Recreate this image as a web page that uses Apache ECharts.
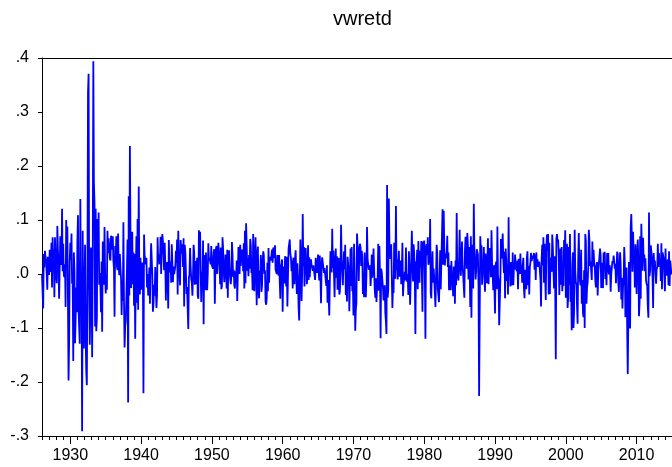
<!DOCTYPE html>
<html><head><meta charset="utf-8">
<script src="https://cdn.jsdelivr.net/npm/echarts@6/dist/echarts.min.js"></script>
<style>html,body{margin:0;padding:0;background:#fff}#c{width:672px;height:467px}</style>
</head><body><div id="c"></div>
<script>
const seriesName = 'vwretd';
const startYear = 1926; // monthly observations from 1926M01
const ret1920s = [
-0.001,-0.033,-0.064,0.037,0.012,0.043,0.032,0.026,0.025,-0.029,0.032,0.028,
-0.002,0.045,0.004,0.010,0.058,-0.025,0.068,0.024,0.046,-0.043,0.068,0.026,
-0.005,-0.017,0.089,0.045,0.017,-0.046,0.012,0.070,0.029,0.017,0.121,0.005,
0.056,-0.002,-0.006,0.018,-0.061,0.100,0.045,0.088,-0.047,-0.197,-0.125,0.022];
const ret1930s = [
0.058,0.026,0.075,-0.018,-0.013,-0.161,0.040,0.008,-0.128,-0.086,-0.025,-0.071,
0.061,0.109,-0.066,-0.098,-0.129,0.139,-0.066,0.004,-0.291,0.080,-0.093,-0.138,
-0.022,0.054,-0.115,-0.179,-0.206,-0.004,0.336,0.371,-0.029,-0.131,-0.056,0.049,
0.008,-0.154,0.032,0.394,0.170,0.133,-0.097,0.121,-0.106,-0.083,0.102,0.028,
0.114,-0.020,0.002,-0.020,-0.071,0.023,-0.107,0.060,-0.003,-0.020,0.087,0.003,
-0.036,-0.017,-0.029,0.080,0.039,0.066,0.068,0.029,0.025,0.071,0.045,0.042,
0.070,0.025,0.010,-0.079,0.052,0.027,0.070,0.014,0.007,0.075,0.017,-0.002,
0.037,0.011,-0.008,-0.076,-0.014,-0.050,0.096,-0.050,-0.136,-0.097,-0.087,-0.045,
0.007,0.064,-0.238,0.144,-0.040,0.237,0.073,-0.026,0.014,0.078,-0.019,0.040,
-0.059,0.037,-0.120,-0.007,0.070,-0.053,0.102,-0.066,0.162,-0.005,-0.038,0.030];
const ret1940s = [
-0.029,0.014,0.021,-0.001,-0.221,0.073,0.033,0.027,0.018,0.030,-0.025,0.000,
-0.040,-0.015,0.012,-0.055,0.015,0.057,0.058,0.000,-0.070,-0.056,-0.020,-0.040,
0.013,-0.025,-0.063,-0.040,0.068,0.024,0.036,0.018,0.027,0.069,0.000,0.052,
0.074,0.061,0.063,0.007,0.058,0.019,-0.049,0.015,0.022,-0.013,-0.064,0.063,
0.018,0.003,0.023,-0.016,0.055,0.058,-0.015,0.014,0.000,0.002,0.014,0.043,
0.021,0.064,-0.038,0.080,0.022,0.002,-0.021,0.063,0.047,0.038,0.055,0.013,
0.066,-0.060,0.054,0.040,0.038,-0.037,-0.024,-0.066,-0.102,-0.007,-0.001,0.048,
0.013,-0.010,-0.016,-0.040,-0.002,0.054,0.040,-0.020,-0.003,0.024,-0.019,0.030,
-0.040,-0.046,0.081,0.029,0.078,0.000,-0.052,0.005,-0.030,0.062,-0.093,0.035,
0.005,-0.030,0.040,-0.020,-0.030,0.000,0.057,0.025,0.030,0.031,0.018,0.052];
const ret1950s = [
0.016,0.015,0.010,0.039,0.046,-0.055,0.016,0.048,0.052,0.000,0.025,0.058,
0.061,0.016,-0.019,0.049,-0.028,-0.023,0.068,0.048,0.007,-0.015,0.004,0.036,
0.016,-0.027,0.045,-0.044,0.031,0.044,0.010,-0.008,-0.019,-0.004,0.059,0.034,
-0.005,0.008,-0.021,-0.027,0.005,-0.015,0.025,-0.050,0.002,0.050,0.030,0.000,
0.054,0.015,0.038,0.045,0.036,0.005,0.057,-0.027,0.080,-0.017,0.094,0.052,
0.006,0.029,-0.004,0.035,0.010,0.065,0.053,0.002,0.010,-0.030,0.074,0.013,
-0.032,0.039,0.068,0.000,-0.058,0.037,0.051,-0.034,-0.045,0.006,-0.001,0.035,
-0.033,-0.022,0.021,0.042,0.036,0.000,0.007,-0.051,-0.057,-0.044,0.021,-0.032,
0.048,-0.016,0.032,0.030,0.025,0.028,0.045,0.021,0.049,0.030,0.030,0.053,
0.008,0.007,0.000,0.035,0.020,-0.003,0.035,-0.013,-0.046,0.013,0.019,0.027];
const ret1960s = [
-0.070,0.014,-0.013,-0.017,0.033,0.021,-0.023,0.032,-0.060,-0.005,0.047,0.048,
0.064,0.037,0.031,0.005,0.025,-0.027,0.030,0.026,-0.019,0.028,0.044,0.000,
-0.037,0.020,-0.005,-0.063,-0.086,-0.083,0.064,0.022,-0.050,0.000,0.111,0.014,
0.050,-0.023,0.036,0.048,0.019,-0.019,-0.002,0.053,-0.011,0.031,-0.006,0.023,
0.027,0.016,0.017,0.006,0.016,0.017,0.019,-0.011,0.030,0.009,0.002,0.003,
0.036,0.005,-0.012,0.034,-0.005,-0.054,0.016,0.031,0.033,0.029,0.002,0.011,
0.008,-0.012,-0.022,0.016,-0.053,-0.011,-0.013,-0.077,-0.009,0.042,0.010,0.003,
0.084,0.011,0.043,0.043,-0.043,0.023,0.047,-0.007,0.033,-0.029,0.004,0.030,
-0.038,-0.032,0.004,0.091,0.024,0.010,-0.021,0.016,0.042,0.009,0.054,-0.039,
-0.007,-0.051,0.032,0.019,0.005,-0.069,-0.066,0.047,-0.022,0.050,-0.032,-0.020];
const ret1970s = [
-0.077,0.056,-0.005,-0.105,-0.066,-0.054,0.075,0.051,0.047,-0.013,0.047,0.056,
0.050,0.015,0.043,0.032,-0.037,0.000,-0.043,0.040,-0.005,-0.043,-0.002,0.087,
0.027,0.029,0.008,0.006,0.016,-0.022,-0.002,0.036,-0.007,0.009,0.047,0.011,
-0.027,-0.044,-0.008,-0.052,-0.024,-0.007,0.056,-0.031,0.052,-0.001,-0.119,0.010,
0.003,0.000,-0.025,-0.049,-0.038,-0.021,-0.072,-0.088,-0.111,0.165,-0.044,-0.029,
0.140,0.057,0.028,0.045,0.055,0.052,-0.063,-0.022,-0.035,0.058,0.029,-0.009,
0.126,0.007,0.027,-0.010,-0.009,0.043,-0.005,-0.002,0.025,-0.019,0.005,0.058,
-0.041,-0.015,-0.011,0.004,-0.011,0.049,-0.014,-0.013,0.000,-0.039,0.042,0.005,
-0.057,-0.013,0.030,0.080,0.019,-0.014,0.055,0.036,-0.007,-0.111,0.023,0.016,
0.045,-0.028,0.061,0.007,-0.016,0.043,0.012,0.061,0.000,-0.070,0.060,0.024];
const ret1980s = [
0.062,0.002,-0.120,0.050,0.055,0.035,0.068,0.017,0.028,0.020,0.102,-0.035,
-0.045,0.015,0.042,-0.016,0.010,-0.010,-0.007,-0.061,-0.060,0.054,0.040,-0.028,
-0.025,-0.052,-0.008,0.044,-0.028,-0.025,-0.026,0.120,0.017,0.117,0.049,0.016,
0.038,0.029,0.037,0.071,0.013,0.040,-0.030,0.000,0.016,-0.030,0.024,-0.008,
-0.012,-0.041,0.014,0.004,-0.055,0.025,-0.021,0.113,0.000,0.000,-0.012,0.025,
0.082,0.019,-0.003,0.000,0.060,0.017,-0.003,-0.005,-0.044,0.044,0.069,0.045,
0.010,0.076,0.054,-0.010,0.050,0.013,-0.061,0.070,-0.081,0.054,0.016,-0.027,
0.130,0.045,0.022,-0.010,0.005,0.046,0.045,0.036,-0.022,-0.226,-0.076,0.070,
0.043,0.053,-0.020,0.009,0.003,0.050,-0.008,-0.033,0.038,0.016,-0.017,0.018,
0.066,-0.019,0.022,0.048,0.040,-0.006,0.081,0.020,-0.002,-0.030,0.016,0.018];
const ret1990s = [
-0.073,0.016,0.023,-0.028,0.088,-0.004,-0.011,-0.095,-0.053,-0.013,0.065,0.029,
0.049,0.075,0.028,0.002,0.041,-0.045,0.047,0.025,-0.013,0.017,-0.038,0.105,
-0.001,0.012,-0.023,0.022,0.005,-0.021,0.040,-0.021,0.012,0.008,0.036,0.016,
0.010,0.005,0.025,-0.028,0.028,0.004,0.000,0.038,0.000,0.017,-0.016,0.017,
0.030,-0.027,-0.045,0.008,0.010,-0.028,0.031,0.042,-0.021,0.015,-0.038,0.012,
0.022,0.039,0.024,0.026,0.034,0.029,0.039,0.008,0.036,-0.011,0.040,0.013,
0.027,0.013,0.010,0.023,0.025,-0.010,-0.060,0.029,0.054,0.016,0.068,-0.016,
0.056,-0.004,-0.048,0.046,0.073,0.043,0.074,-0.038,0.058,-0.037,0.030,0.017,
0.004,0.073,0.050,0.009,-0.027,0.033,-0.026,-0.158,0.065,0.074,0.060,0.064,
0.035,-0.039,0.036,0.047,-0.020,0.050,-0.032,-0.010,-0.022,0.063,0.036,0.081];
const ret2000s = [
-0.044,0.027,0.056,-0.063,-0.044,0.050,-0.020,0.074,-0.052,-0.027,-0.104,0.016,
0.040,-0.100,-0.071,0.082,0.008,-0.015,-0.020,-0.060,-0.092,0.027,0.076,0.016,
-0.014,-0.021,0.045,-0.055,-0.011,-0.071,-0.080,0.007,-0.100,0.074,0.061,-0.055,
-0.025,-0.016,0.010,0.082,0.063,0.015,0.023,0.024,-0.011,0.060,0.014,0.045,
0.023,0.014,-0.012,-0.025,0.014,0.022,-0.040,0.002,0.018,0.016,0.047,0.035,
-0.026,0.021,-0.019,-0.026,0.040,0.009,0.041,-0.009,0.008,-0.021,0.039,0.003,
0.039,-0.001,0.016,0.012,-0.033,-0.001,-0.002,0.024,0.020,0.034,0.023,0.010,
0.019,-0.017,0.010,0.041,0.037,-0.016,-0.033,0.013,0.040,0.019,-0.047,-0.007,
-0.064,-0.023,-0.014,0.050,0.020,-0.080,-0.011,0.012,-0.098,-0.185,-0.080,0.022,
-0.081,-0.101,0.088,0.111,0.066,0.004,0.078,0.034,0.042,-0.025,0.055,0.029];
const ret2010s = [
-0.037,0.035,0.064,0.021,-0.078,-0.054,0.070,-0.046,0.093,0.040,0.006,0.067,
0.021,0.036,0.005,0.029,-0.012,-0.018,-0.022,-0.061,-0.081,0.114,-0.004,0.008,
0.053,0.042,0.029,-0.007,-0.063,0.039,0.010,0.025,0.027,-0.018,0.008,0.013,
0.056,0.013,0.039,0.016,0.027,-0.013,0.057,-0.028,0.040,0.041,0.028,0.026,
-0.032,0.047,0.004,-0.003,0.022,0.027,-0.021,0.042,-0.022,0.025,0.024,-0.001];
const decadeTicks = [1930,1940,1950,1960,1970,1980,1990,2000,2010];
const yTickLabels = ['-.3','-.2','-.1','.0','.1','.2','.3','.4'];

const allReturns = [].concat(ret1920s, ret1930s, ret1940s, ret1950s, ret1960s,
  ret1970s, ret1980s, ret1990s, ret2000s, ret2010s);
const lineData = allReturns.map((v, i) => [startYear + i / 12, v]);
const yearTicks = [];
for (let y = startYear; y <= 2014; y++) yearTicks.push(y);

const FONT = '"Liberation Sans", Arial, sans-serif';
const xMin = 1926, xMax = 2015;
const chart = echarts.init(document.getElementById('c'), null, {renderer: 'canvas'});
chart.setOption({
  animation: false,
  backgroundColor: '#fff',
  title: {text: seriesName, left: 328, top: 4,
    textStyle: {fontFamily: FONT, fontSize: 20, fontWeight: 'normal', color: '#000'}},
  grid: {left: 42, right: 0, top: 58, bottom: 31, containLabel: false},
  xAxis: [
    {type: 'value', min: xMin, max: xMax, position: 'bottom',
     axisLine: {show: true, onZero: false, lineStyle: {color: '#000', width: 1}},
     axisTick: {show: true, customValues: yearTicks, length: 4, lineStyle: {color: '#000'}},
     axisLabel: {show: false}, splitLine: {show: false}},
    {type: 'value', min: xMin, max: xMax, position: 'bottom',
     axisLine: {show: false, onZero: false},
     axisTick: {show: true, customValues: decadeTicks, length: 8, lineStyle: {color: '#000'}},
     axisLabel: {show: true, customValues: decadeTicks, margin: 12,
       fontFamily: FONT, fontSize: 16, color: '#000', formatter: v => String(Math.round(v))},
     splitLine: {show: false}},
    {type: 'value', min: xMin, max: xMax, position: 'top',
     axisLine: {show: true, onZero: false, lineStyle: {color: '#000', width: 1}},
     axisTick: {show: false}, axisLabel: {show: false}, splitLine: {show: false}}
  ],
  yAxis: {type: 'value', min: -0.3, max: 0.4, interval: 0.1,
    axisLine: {show: true, onZero: false, lineStyle: {color: '#000', width: 1}},
    axisTick: {show: true, length: 4, lineStyle: {color: '#000'}},
    axisLabel: {margin: 13, fontFamily: FONT, fontSize: 16, color: '#000',
      formatter: v => { const k = Math.round(v * 10) + 3; return yTickLabels[k]; }},
    splitLine: {show: false}},
  series: [{name: seriesName, type: 'line', xAxisIndex: 0, data: lineData,
    showSymbol: false, symbol: 'none', clip: true,
    lineStyle: {color: '#0000FF', width: 1.8}}]
});
</script></body></html>
